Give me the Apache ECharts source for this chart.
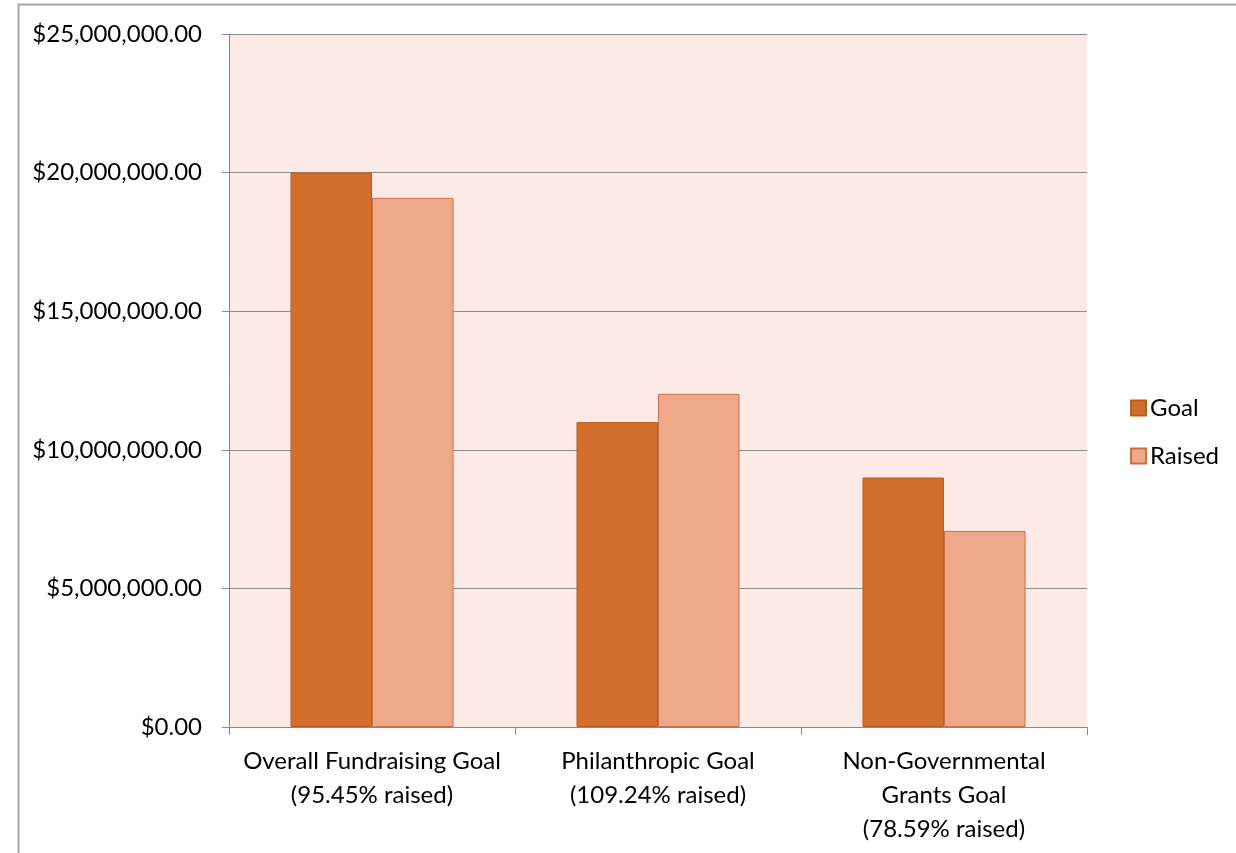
<!DOCTYPE html>
<html>
<head>
<meta charset="utf-8">
<script src="https://cdn.jsdelivr.net/npm/echarts@6/dist/echarts.min.js"></script>
<style>
html,body{margin:0;padding:0;background:#fff;}
#chart{width:1236px;height:853px;}
</style>
</head>
<body>
<div id="chart"></div>
<script>
const categories = [
  "Overall Fundraising Goal\n(95.45% raised)",
  "Philanthropic Goal\n(109.24% raised)",
  "Non-Governmental\nGrants Goal\n(78.59% raised)"
];
const goalValues = [20000000, 11000000, 9000000];
const raisedValues = [19090000, 12016400, 7073100];
const seriesNames = ["Goal", "Raised"];

const FONT = "Lato";
const chart = echarts.init(document.getElementById('chart'));
const fmt = v => '$' + v.toLocaleString('en-US', {minimumFractionDigits: 2, maximumFractionDigits: 2});

chart.setOption({
  animation: false,
  textStyle: {fontFamily: FONT},
  graphic: [{
    type: 'rect', z: -10,
    shape: {x: 18.5, y: 4.5, width: 1400, height: 1000},
    style: {fill: 'none', stroke: '#a6a6a6', lineWidth: 2}
  }],
  grid: {left: 229, right: 149, top: 34, bottom: 126, containLabel: false,
         show: true, backgroundColor: '#fbeae5', borderWidth: 0},
  legend: {
    orient: 'vertical', left: 1125, top: 391,
    itemWidth: 15, itemHeight: 15, itemGap: 24,
    icon: 'rect',
    textStyle: {fontSize: 24, lineHeight: 20, height: 20, color: '#000', fontFamily: FONT, padding: [0, 0, 0, -1]},
    data: seriesNames
  },
  xAxis: {
    type: 'category', data: categories,
    axisLine: {lineStyle: {color: '#888', width: 1}},
    axisTick: {show: true, length: 8, lineStyle: {color: '#888'}, alignWithLabel: false},
    axisLabel: {fontSize: 24, color: '#000', lineHeight: 34, margin: 17, interval: 0, fontFamily: FONT},
    splitLine: {show: false}
  },
  yAxis: {
    type: 'value', min: 0, max: 25000000, interval: 5000000,
    axisLine: {show: true, lineStyle: {color: '#888'}},
    axisTick: {show: true, length: 7, lineStyle: {color: '#888'}},
    axisLabel: {fontSize: 24, color: '#000', margin: 27, formatter: fmt, fontFamily: FONT},
    splitLine: {show: true, lineStyle: {color: '#8c8c8c', width: 1}}
  },
  series: [
    {name: seriesNames[0], type: 'bar', data: goalValues, barGap: '0%', barCategoryGap: '43%',
     itemStyle: {color: '#d36e2a', borderColor: '#b85e24', borderWidth: 1}},
    {name: seriesNames[1], type: 'bar', data: raisedValues,
     itemStyle: {color: '#f0a88a', borderColor: '#c9714a', borderWidth: 1}}
  ]
});
</script>
</body>
</html>
